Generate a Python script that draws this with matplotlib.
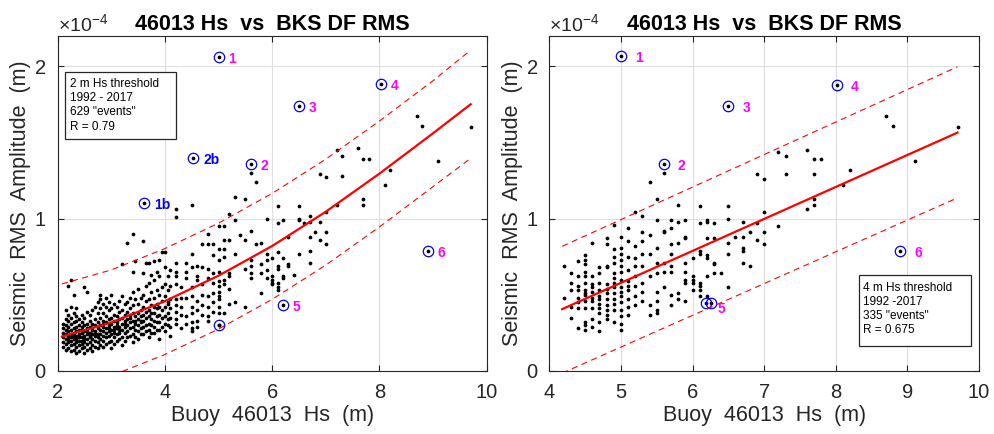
import numpy as np
import matplotlib
matplotlib.use('Agg')
import matplotlib.pyplot as plt
from matplotlib.patches import Rectangle
from matplotlib.ticker import ScalarFormatter

plt.rcParams['font.family'] = ['Liberation Sans', 'DejaVu Sans']
plt.rcParams['mathtext.fontset'] = 'custom'
plt.rcParams['mathtext.rm'] = 'Liberation Sans'
plt.rcParams['mathtext.it'] = 'Liberation Sans'

SCALE = 1e-4  # amplitudes below are in units of 1e-4 m

# ---------------- left panel (2 m threshold) : columns of Hs ----------------
left_hs = [2.10, 2.15, 2.20, 2.25, 2.30, 2.35, 2.40, 2.45, 2.50, 2.55, 2.60, 2.65, 2.70,
           2.75, 2.80, 2.85, 2.90, 2.95, 3.00, 3.05, 3.10, 3.15, 3.20, 3.25, 3.30, 3.35,
           3.40, 3.45, 3.50, 3.55, 3.60, 3.65, 3.70, 3.75, 3.80, 3.85, 3.90, 3.95, 4.00,
           4.05, 4.10,
           4.2, 4.3, 4.4, 4.5, 4.6, 4.7, 4.8, 4.9, 5.0,
           5.1, 5.2, 5.3, 5.4, 5.5, 5.6, 5.7, 5.8, 5.9, 6.0, 6.1, 6.2, 6.3, 6.4, 6.5,
           6.6, 6.7, 6.8, 6.9, 7.0, 7.2, 7.3, 7.6, 7.7, 7.8, 8.1, 8.2, 8.7, 8.8, 9.1, 9.7]
left_amp = [
    [0.16, 0.22, 0.28, 0.19, 0.25, 0.31],
    [0.14, 0.18, 0.21, 0.24, 0.27, 0.30, 0.34, 0.40],
    [0.15, 0.19, 0.23, 0.26, 0.29, 0.33, 0.37, 0.56, 0.21],
    [0.13, 0.17, 0.20, 0.24, 0.27, 0.31, 0.35, 0.42, 0.60, 0.22],
    [0.14, 0.18, 0.21, 0.25, 0.28, 0.32, 0.38, 0.50, 0.23],
    [0.12, 0.16, 0.19, 0.23, 0.26, 0.29, 0.33, 0.36, 0.41, 0.21],
    [0.13, 0.17, 0.20, 0.24, 0.27, 0.30, 0.34, 0.22],
    [0.15, 0.18, 0.22, 0.25, 0.29, 0.32, 0.37, 0.20, 0.27],
    [0.12, 0.16, 0.19, 0.23, 0.26, 0.30, 0.35, 0.55, 0.21],
    [0.14, 0.18, 0.21, 0.24, 0.28, 0.31, 0.39, 0.52, 0.26],
    [0.15, 0.19, 0.22, 0.25, 0.29, 0.33, 0.37, 0.23],
    [0.13, 0.17, 0.21, 0.24, 0.27, 0.31, 0.40, 0.28],
    [0.16, 0.20, 0.23, 0.26, 0.30, 0.34, 0.42, 0.25],
    [0.15, 0.19, 0.22, 0.28, 0.32, 0.38, 0.45, 0.24],
    [0.17, 0.21, 0.24, 0.27, 0.30, 0.35, 0.41, 0.47, 0.50],
    [0.16, 0.20, 0.23, 0.26, 0.29, 0.33, 0.38, 0.44, 0.31],
    [0.18, 0.22, 0.25, 0.28, 0.32, 0.36, 0.42, 0.48],
    [0.19, 0.23, 0.26, 0.30, 0.34, 0.40, 0.45, 0.28],
    [0.15, 0.20, 0.24, 0.27, 0.31, 0.35, 0.41, 0.50],
    [0.18, 0.22, 0.25, 0.29, 0.33, 0.37, 0.44, 0.27],
    [0.20, 0.24, 0.28, 0.32, 0.36, 0.42, 0.30],
    [0.21, 0.25, 0.29, 0.34, 0.39, 0.46, 0.27],
    [0.17, 0.22, 0.27, 0.31, 0.35, 0.40, 0.49, 0.70],
    [0.20, 0.25, 0.29, 0.33, 0.37, 0.44, 0.31],
    [0.22, 0.26, 0.30, 0.34, 0.39, 0.45, 0.84],
    [0.23, 0.28, 0.32, 0.37, 0.41, 0.48, 0.35],
    [0.19, 0.24, 0.29, 0.33, 0.38, 0.43, 0.52, 0.65, 0.90],
    [0.22, 0.27, 0.31, 0.36, 0.47, 0.72, 0.33],
    [0.21, 0.26, 0.30, 0.34, 0.38, 0.44, 0.54],
    [0.24, 0.28, 0.32, 0.36, 0.40, 0.48, 0.33],
    [0.24, 0.29, 0.33, 0.37, 0.42, 0.50, 0.64, 0.85],
    [0.26, 0.30, 0.35, 0.39, 0.46, 0.56, 0.71],
    [0.22, 0.27, 0.31, 0.36, 0.40, 0.47, 0.58, 0.71],
    [0.25, 0.30, 0.34, 0.38, 0.43, 0.52, 0.63],
    [0.25, 0.29, 0.33, 0.38, 0.42, 0.48, 0.60, 0.72],
    [0.27, 0.32, 0.36, 0.41, 0.44, 0.53, 0.65],
    [0.21, 0.27, 0.32, 0.37, 0.42, 0.50, 0.62, 0.73],
    [0.29, 0.35, 0.40, 0.46, 0.55, 0.78],
    [0.26, 0.31, 0.36, 0.42, 0.49, 0.57, 0.68, 0.78],
    [0.30, 0.34, 0.38, 0.45, 0.53, 0.62, 0.44],
    [0.23, 0.29, 0.35, 0.41, 0.47, 0.56, 0.66],
    [1.06, 1.01, 0.71, 0.65, 0.62, 0.57, 0.47, 0.43, 0.39, 0.34, 0.31],
    [0.42, 0.37, 0.28, 0.55, 0.48],
    [0.71, 0.65, 0.61, 0.48, 0.36, 0.31],
    [1.09, 0.77, 0.68, 0.49, 0.42, 0.38, 0.32, 0.28, 0.26, 0.55],
    [0.69, 0.62, 0.60, 0.46, 0.40, 0.33, 0.29],
    [0.83, 0.68, 0.50, 0.43, 0.37, 0.57],
    [0.90, 0.83, 0.67, 0.61, 0.49, 0.42, 0.36, 0.33],
    [0.83, 0.76, 0.64, 0.58, 0.51, 0.39, 0.45],
    [0.95, 0.80, 0.73, 0.65, 0.59, 0.56, 0.52, 0.49, 0.47, 0.42, 0.38, 0.30],
    [0.95, 0.86, 0.80, 0.75, 0.60, 0.57, 0.38],
    [1.03, 0.86, 0.64, 0.62, 0.54, 0.44],
    [1.14, 0.99, 0.77, 0.45],
    [0.89],
    [1.13, 0.86, 0.67, 0.42],
    [1.30, 0.92, 0.73, 0.69, 0.64, 0.61],
    [1.24, 0.83],
    [0.84, 0.70, 0.64, 0.51],
    [1.00, 0.77, 0.73, 0.66, 0.61],
    [0.74, 0.62, 0.60, 0.58, 0.57],
    [1.08, 0.97, 0.78, 0.69, 0.67, 0.58, 0.55, 0.53],
    [0.99, 0.74, 0.62, 0.61],
    [0.88, 0.70, 0.69],
    [0.63],
    [1.08, 1.00, 0.99, 0.77],
    [0.97],
    [1.02, 0.98, 0.88, 0.79, 0.71],
    [0.91],
    [1.29, 0.98, 0.86],
    [1.27, 1.04, 0.91, 0.83],
    [1.45, 1.09],
    [1.41, 1.28],
    [1.46],
    [1.39, 1.13, 1.09],
    [1.39],
    [1.22],
    [1.32],
    [1.67],
    [1.61],
    [1.38],
    [1.60],
]

# ---------------- right panel (4 m threshold) ----------------
right_hs = [4.2, 4.3, 4.4, 4.5, 4.6, 4.7, 4.8, 4.9, 5.0, 5.1, 5.2, 5.3, 5.4, 5.5, 5.6,
            5.7, 5.8, 5.9, 6.0, 6.1, 6.2, 6.3, 6.4, 6.5, 6.6, 6.7, 6.8, 6.9, 7.0, 7.2,
            7.3, 7.6, 7.7, 7.8, 8.1, 8.2, 8.7, 8.8, 9.1, 9.7]
right_amp = [
    [0.69, 0.48],
    [0.64, 0.58, 0.53, 0.42, 0.35],
    [0.72, 0.62, 0.56, 0.53, 0.48, 0.41, 0.28, 0.45],
    [0.76, 0.73, 0.70, 0.65, 0.62, 0.58, 0.53, 0.50, 0.46, 0.41, 0.32, 0.30, 0.27, 0.51],
    [0.84, 0.62, 0.55, 0.52, 0.48, 0.46, 0.41, 0.34, 0.29, 0.57],
    [0.68, 0.64, 0.58, 0.53, 0.49, 0.47, 0.41, 0.38, 0.32, 0.26, 0.44],
    [0.87, 0.83, 0.69, 0.68, 0.57, 0.51, 0.47, 0.43, 0.40, 0.37, 0.34, 0.54],
    [0.96, 0.80, 0.75, 0.71, 0.64, 0.61, 0.58, 0.55, 0.51, 0.47, 0.40, 0.32, 0.44],
    [0.88, 0.81, 0.77, 0.73, 0.69, 0.65, 0.60, 0.55, 0.49, 0.45, 0.40, 0.36, 0.31, 0.27, 0.52],
    [0.94, 0.85, 0.75, 0.66, 0.59, 0.53, 0.47, 0.42, 0.37, 0.56],
    [1.04, 0.82, 0.74, 0.69, 0.62, 0.56, 0.49, 0.43],
    [1.02, 0.91, 0.85, 0.77, 0.69, 0.58, 0.52, 0.46],
    [1.24, 0.89, 0.77, 0.62, 0.43, 0.37],
    [1.13, 0.99, 0.81, 0.71, 0.64, 0.52, 0.46, 0.40, 0.38],
    [1.30, 0.92, 0.91, 0.71, 0.65, 0.55],
    [0.99, 0.94, 0.83, 0.77, 0.69, 0.65, 0.50, 0.43],
    [1.09, 0.98, 0.84, 0.51, 0.47],
    [0.99, 0.88, 0.87, 0.71, 0.65, 0.60, 0.58, 0.46],
    [0.74, 0.62, 0.60, 0.53, 0.58],
    [1.08, 0.97, 0.79, 0.77, 0.58, 0.56, 0.53, 0.49],
    [0.99, 0.98, 0.87, 0.76, 0.74, 0.62, 0.49],
    [0.97, 0.87, 0.71, 0.70, 0.64],
    [0.64],
    [1.00, 1.08, 0.84, 0.77, 0.55],
    [0.88],
    [0.98, 0.88, 0.81, 0.79, 0.71],
    [0.91, 0.69],
    [1.29, 0.97, 0.86],
    [1.26, 1.04, 0.91, 0.83],
    [1.44, 0.95],
    [1.41, 1.29],
    [1.45, 1.06],
    [1.39, 1.29, 1.13, 1.09],
    [1.39],
    [1.22],
    [1.32],
    [1.67],
    [1.61],
    [1.38],
    [1.60],
]

# ---------------- circled events ----------------
left_ev_hs = [5.0, 5.6, 6.5, 8.03, 6.2, 8.9, 3.61, 4.53, 5.0]
left_ev_amp = [2.06, 1.36, 1.74, 1.886, 0.434, 0.79, 1.10, 1.395, 0.30]
left_ev_labels = ['1', '2', '3', '4', '5', '6', '1b', '2b', '']
left_ev_colors = ['#ff00ff'] * 6 + ['#0000ff', '#0000ff', '#0000ff']

right_ev_hs = [5.0, 5.6, 6.5, 8.02, 6.19, 8.9, 6.26]
right_ev_amp = [2.065, 1.36, 1.74, 1.878, 0.445, 0.79, 0.445]
right_ev_labels = ['1', '2', '3', '4', '5', '6', '']

# ---------------- fit curves ----------------
left_fit_hs = [2.08, 3.0, 4.0, 5.0, 6.0, 7.0, 8.0, 9.0, 9.7]
left_fit = [0.226, 0.318, 0.458, 0.625, 0.820, 1.045, 1.295, 1.560, 1.750]
left_upper = [0.571, 0.663, 0.803, 0.970, 1.165, 1.390, 1.640, 1.905, 2.105]
left_lower = [-0.124, -0.032, 0.108, 0.275, 0.470, 0.695, 0.945, 1.210, 1.395]

right_fit_hs = [4.18, 9.7]
right_fit = [0.406, 1.564]
right_upper = [0.818, 1.996]
right_lower = [-0.014, 1.136]

left_box = ['2 m Hs threshold', '1992 - 2017', '629 "events"', 'R = 0.79']
right_box = ['4 m Hs threshold', '1992 -2017', '335 "events"', 'R = 0.675']

TITLE = '46013 Hs  vs  BKS DF RMS'
XLABEL = 'Buoy  46013  Hs  (m)'
YLABEL = 'Seismic  RMS  Amplitude  (m)'

GRAY = '#262626'
DOT_MS = 2.7


def expand(hs_cols, amp_cols):
    xs, ys = [], []
    for h, a in zip(hs_cols, amp_cols):
        xs += [h] * len(a)
        ys += list(a)
    return np.array(xs), np.array(ys) * SCALE


def style_axes(ax, xlim, xticks):
    ax.set_xlim(*xlim)
    ax.set_ylim(0, 2.2 * SCALE)
    ax.set_xticks(xticks)
    ax.set_yticks([0, 1 * SCALE, 2 * SCALE])
    fmt = ScalarFormatter(useMathText=True)
    fmt.set_powerlimits((0, 0))
    ax.yaxis.set_major_formatter(fmt)
    ax.yaxis.get_offset_text().set_fontsize(14)
    ax.yaxis.get_offset_text().set_color(GRAY)
    ax.grid(True, color='#dedede', lw=0.8)
    ax.set_axisbelow(True)
    for s in ax.spines.values():
        s.set_color(GRAY)
        s.set_linewidth(0.8)
    ax.tick_params(direction='in', length=4, width=0.8, colors=GRAY,
                   top=True, right=True, labelsize=14.5)
    ax.tick_params(axis='x', pad=9)
    ax.tick_params(axis='y', pad=8)
    ax.set_title(TITLE, fontsize=15.5, fontweight='bold', pad=4)
    ax.set_xlabel(XLABEL, fontsize=15.5, color=GRAY, labelpad=2)
    ax.set_ylabel(YLABEL, fontsize=15.5, color=GRAY, labelpad=2)


def draw_box(ax, x0, y0, x1, y1, lines, tx, tys):
    ax.add_patch(Rectangle((x0, y0), x1 - x0, y1 - y0, transform=ax.transAxes,
                           facecolor='white', edgecolor=GRAY, lw=0.9, zorder=5))
    for line, ty in zip(lines, tys):
        ax.text(tx, ty, line, transform=ax.transAxes, fontsize=8.5, color='black',
                ha='left', va='center', zorder=6)


fig = plt.figure(figsize=(9.94, 4.34), dpi=100)
axL = fig.add_axes([0.0579, 0.1452, 0.4318, 0.7726])
axR = fig.add_axes([0.5526, 0.1452, 0.4323, 0.7726])

dash = (5.5, 4)

# ----- left -----
xL, yL = expand(left_hs, left_amp)
axL.plot(xL, yL, 'o', color='black', ms=DOT_MS, mew=0, zorder=3)
axL.plot(left_ev_hs, np.array(left_ev_amp) * SCALE, 'o', color='black', ms=DOT_MS, mew=0, zorder=3)
axL.plot(left_ev_hs, np.array(left_ev_amp) * SCALE, 'o', mfc='none', mec='#0000ff',
         ms=7.5, mew=0.9, zorder=4)
axL.plot(left_fit_hs, np.array(left_fit) * SCALE, color='red', lw=1.6, zorder=4)
axL.plot(left_fit_hs, np.array(left_upper) * SCALE, color='red', lw=0.8, dashes=dash, zorder=4)
axL.plot(left_fit_hs, np.array(left_lower) * SCALE, color='red', lw=0.8, dashes=dash, zorder=4)
for h, a, lab, c in zip(left_ev_hs, left_ev_amp, left_ev_labels, left_ev_colors):
    if lab:
        axL.annotate(lab, (h, a * SCALE), xytext=(7, -1.5), textcoords='offset points',
                     ha='left', va='center', fontsize=10, fontweight='bold', color=c)
style_axes(axL, (2, 10), [2, 4, 6, 8, 10])
draw_box(axL, 0.0168, 0.692, 0.2761, 0.893, left_box, 0.0295, [0.857, 0.815, 0.771, 0.728])

# ----- right -----
xR, yR = expand(right_hs, right_amp)
axR.plot(xR, yR, 'o', color='black', ms=DOT_MS, mew=0, zorder=3)
axR.plot(right_ev_hs, np.array(right_ev_amp) * SCALE, 'o', color='black', ms=DOT_MS, mew=0, zorder=3)
axR.plot(right_ev_hs, np.array(right_ev_amp) * SCALE, 'o', mfc='none', mec='#0000ff',
         ms=7.5, mew=0.9, zorder=4)
axR.plot(right_fit_hs, np.array(right_fit) * SCALE, color='red', lw=1.6, zorder=4)
axR.plot(right_fit_hs, np.array(right_upper) * SCALE, color='red', lw=0.8, dashes=dash, zorder=4)
axR.plot(right_fit_hs, np.array(right_lower) * SCALE, color='red', lw=0.8, dashes=dash, zorder=4)
for h, a, lab in zip(right_ev_hs, right_ev_amp, right_ev_labels):
    if lab:
        off = (8, -4.5) if lab == '5' else (10, -1.5)
        axR.annotate(lab, (h, a * SCALE), xytext=off, textcoords='offset points',
                     ha='left', va='center', fontsize=10, fontweight='bold', color='#ff00ff')
style_axes(axR, (4, 10), [4, 5, 6, 7, 8, 9, 10])
draw_box(axR, 0.7215, 0.0746, 0.981, 0.285, right_box, 0.731, [0.247, 0.205, 0.164, 0.122])

fig.savefig('out.png', dpi=100)
